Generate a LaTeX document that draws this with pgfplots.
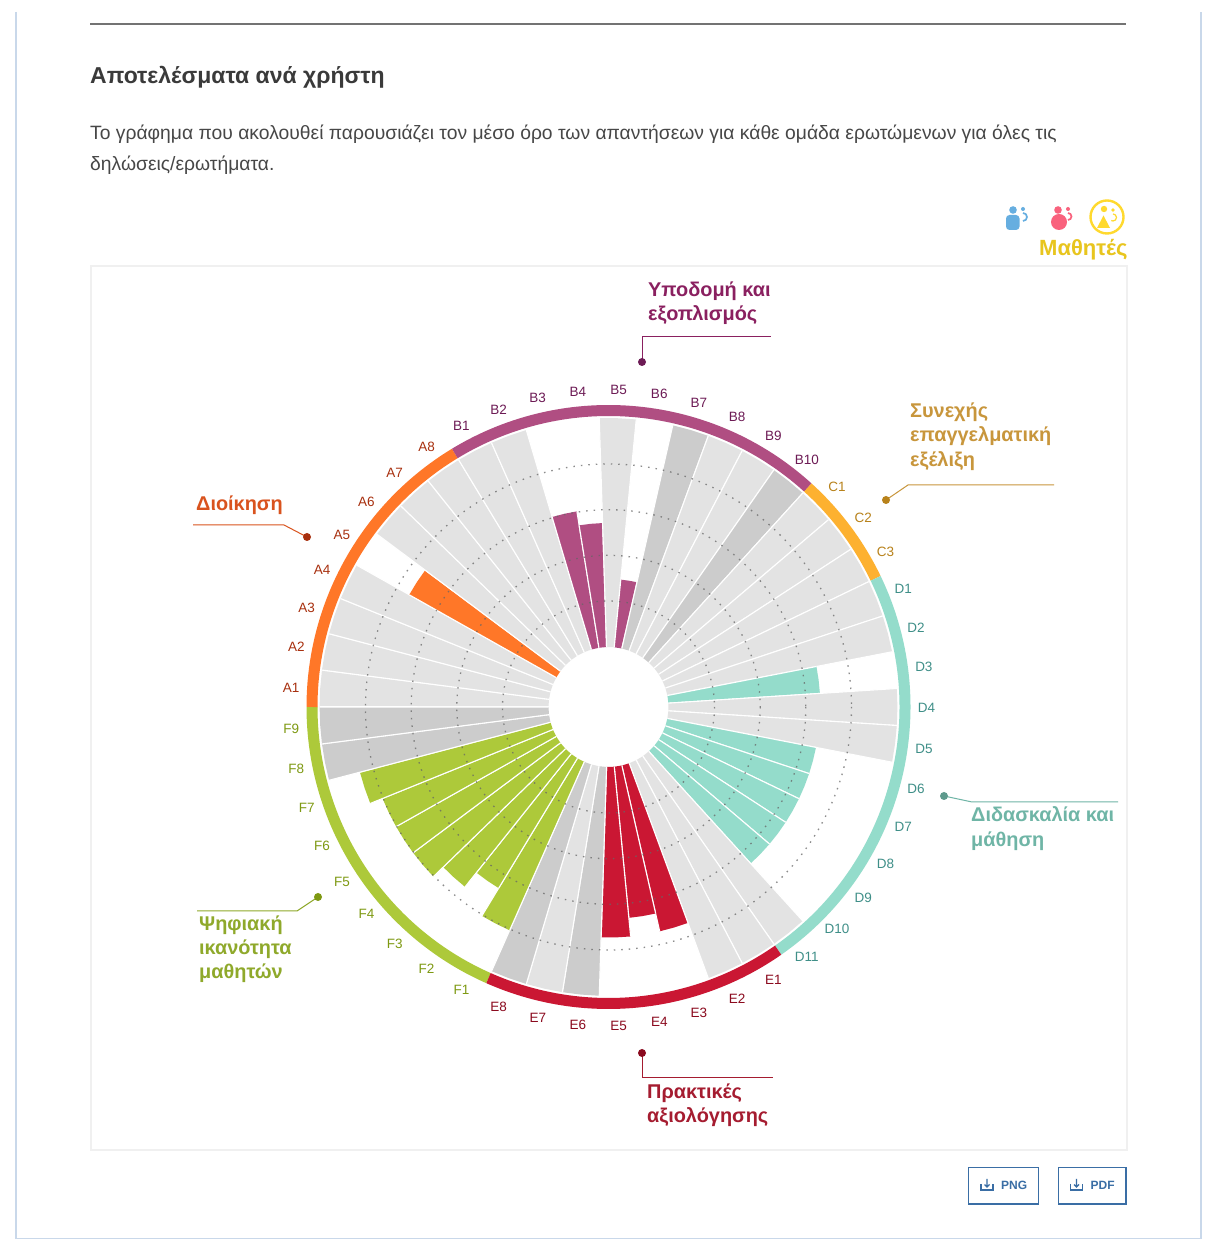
\documentclass[border=0pt]{standalone}
\usepackage{fontspec}
\setmainfont{Liberation Sans}
\usepackage{pgfplots}
\pgfplotsset{compat=1.18}
\definecolor{lgrey}{HTML}{E3E3E3}
\definecolor{dgrey}{HTML}{CCCCCC}
\definecolor{cA}{HTML}{FF7728}
\definecolor{cB}{HTML}{B04E82}
\definecolor{cC}{HTML}{FDB130}
\definecolor{cD}{HTML}{94DCCB}
\definecolor{cE}{HTML}{CA1733}
\definecolor{cF}{HTML}{ADC93A}
\definecolor{tA}{HTML}{A8300F}
\definecolor{tB}{HTML}{6D1B55}
\definecolor{tC}{HTML}{B8821B}
\definecolor{tD}{HTML}{3F8F88}
\definecolor{tE}{HTML}{8B0A1E}
\definecolor{tF}{HTML}{7E9912}
\definecolor{ink}{HTML}{3A3A3A}
\definecolor{btn}{HTML}{3A6EA5}
\definecolor{hA}{HTML}{D9531E}\definecolor{hB}{HTML}{8A2060}\definecolor{hC}{HTML}{C8963C}
\definecolor{hD}{HTML}{6FB5A6}\definecolor{hE}{HTML}{A51C30}\definecolor{hF}{HTML}{8FA92B}
\definecolor{iB}{HTML}{66AEE0}\definecolor{iP}{HTML}{F9627D}\definecolor{iY}{HTML}{FFD92E}
\definecolor{iT}{HTML}{E8C51E}
\definecolor{frameblue}{HTML}{C9D8EA}
% one bar: colour, position in the ring (0..48), value on the 0..5 scale
\newcommand\radbar[3]{%
 \addplot[fill=#1,draw=none,data cs=polar] coordinates {
 ({180-7.3469*#2},60) ({180-7.3469*#2},{60+45.6*#3}) ({180-7.3469*(#2+0.5)},{60+45.6*#3}) ({180-7.3469*(#2+1)},{60+45.6*#3}) ({180-7.3469*(#2+1)},60) ({180-7.3469*#2},60)};
 \addplot[draw=white,line width=1.1pt,data cs=polar] coordinates {
 ({180-7.3469*#2},{60+45.6*#3}) ({180-7.3469*#2},60)};
 \addplot[draw=white,line width=1.1pt,data cs=polar] coordinates {
 ({180-7.3469*(#2+1)},{60+45.6*#3}) ({180-7.3469*(#2+1)},60)};}
\newcommand\seg[3]{\draw[#1,line width=11pt] ({608.5+296.5*cos(180-7.3469*#2)},{707-296.5*sin(180-7.3469*#2)}) arc[start angle={180-7.3469*#2},end angle={180-7.3469*#3},x radius=296.5,y radius=-296.5];}
\newcommand\lbl[3]{\node[#1,font=\fontsize{13.5}{14}\selectfont] at ({608.5+318*cos(180-7.3469*(#2+0.5))},{708-318*sin(180-7.3469*(#2+0.5))}) {#3};}
\newcommand\head[2]{\node[anchor=base west,inner sep=0pt,font=\fontsize{19.9}{20}\bfseries\selectfont,#1] at #2;}
\begin{document}
\begin{tikzpicture}
\begin{axis}[x=1pt,y=1pt,scale only axis,hide axis,clip=false,
  xmin=-608.5,xmax=606.5,ymin=-533,ymax=707]
\begin{scope}[shift={(axis cs:-608.5,707)},x=1pt,y=-1pt]
 \fill[white] (0,0) rectangle (1215,1240);
 \draw[color=frameblue,line width=1.5pt] (16,12) -- (16,1238.5) -- (1201,1238.5) -- (1201,12);
 \draw[color=black!55,line width=2pt] (90,24.5) -- (1126,24.5);
 \draw[color=black!6,line width=1.3pt] (91,266) rectangle (1127,1150);
\end{scope}
% --- A
\radbar{lgrey}{0}{5.02}\radbar{lgrey}{1}{5.02}\radbar{lgrey}{2}{5.02}\radbar{lgrey}{3}{5.02}
\radbar{cA}{4}{3.70}
\radbar{lgrey}{5}{5.02}\radbar{lgrey}{6}{5.02}\radbar{lgrey}{7}{5.02}
% --- B
\radbar{lgrey}{8}{5.02}\radbar{lgrey}{9}{5.02}
\radbar{cB}{10}{3.03}\radbar{cB}{11}{2.72}
\radbar{lgrey}{12}{5.02}
\radbar{cB}{13}{1.49}
\radbar{dgrey}{14}{5.02}\radbar{lgrey}{15}{5.02}\radbar{lgrey}{16}{5.02}\radbar{dgrey}{17}{5.02}
% --- C
\radbar{lgrey}{18}{5.02}\radbar{lgrey}{19}{5.02}\radbar{lgrey}{20}{5.02}
% --- D
\radbar{lgrey}{21}{5.02}\radbar{lgrey}{22}{5.02}
\radbar{cD}{23}{3.33}
\radbar{lgrey}{24}{5.02}\radbar{lgrey}{25}{5.02}
\radbar{cD}{26}{3.32}\radbar{cD}{27}{3.32}\radbar{cD}{28}{3.32}\radbar{cD}{29}{3.32}\radbar{cD}{30}{3.32}
\radbar{lgrey}{31}{5.02}
% --- E
\radbar{lgrey}{32}{5.02}\radbar{lgrey}{33}{5.02}
\radbar{cE}{34}{3.73}\radbar{cE}{35}{3.33}\radbar{cE}{36}{3.74}
\radbar{dgrey}{37}{5.02}\radbar{lgrey}{38}{5.02}\radbar{dgrey}{39}{5.02}
% --- F
\radbar{cF}{40}{4.04}\radbar{cF}{41}{3.33}\radbar{cF}{42}{3.73}\radbar{cF}{43}{4.03}
\radbar{cF}{44}{4.03}\radbar{cF}{45}{4.03}\radbar{cF}{46}{4.32}
\radbar{dgrey}{47}{5.02}\radbar{dgrey}{48}{5.02}
\begin{scope}[shift={(axis cs:-608.5,707)},x=1pt,y=-1pt]
 % dotted level circles
 \draw[color=black!60,line width=1.3pt,dash pattern=on 1.5pt off 6pt,opacity=.75] (608.5,707) circle[radius=106];
 \draw[color=black!60,line width=1.3pt,dash pattern=on 1.5pt off 6pt,opacity=.75] (608.5,707) circle[radius=151.7];
 \draw[color=black!60,line width=1.3pt,dash pattern=on 1.5pt off 6pt,opacity=.75] (608.5,707) circle[radius=197.3];
 \draw[color=black!60,line width=1.3pt,dash pattern=on 1.5pt off 6pt,opacity=.75] (608.5,707) circle[radius=243];
 % rings
 \seg{cF}{40}{49}\seg{cA}{0}{8}\seg{cB}{8}{18}\seg{cC}{18}{21}\seg{cD}{21}{32}\seg{cE}{32}{40}
 % labels
 \lbl{tA}{0}{A1}\lbl{tA}{1}{A2}\lbl{tA}{2}{A3}\lbl{tA}{3}{A4}\lbl{tA}{4}{A5}\lbl{tA}{5}{A6}\lbl{tA}{6}{A7}\lbl{tA}{7}{A8}
 \lbl{tB}{8}{B1}\lbl{tB}{9}{B2}\lbl{tB}{10}{B3}\lbl{tB}{11}{B4}\lbl{tB}{12}{B5}\lbl{tB}{13}{B6}\lbl{tB}{14}{B7}\lbl{tB}{15}{B8}\lbl{tB}{16}{B9}\lbl{tB}{17}{B10}
 \lbl{tC}{18}{C1}\lbl{tC}{19}{C2}\lbl{tC}{20}{C3}
 \lbl{tD}{21}{D1}\lbl{tD}{22}{D2}\lbl{tD}{23}{D3}\lbl{tD}{24}{D4}\lbl{tD}{25}{D5}\lbl{tD}{26}{D6}\lbl{tD}{27}{D7}\lbl{tD}{28}{D8}\lbl{tD}{29}{D9}\lbl{tD}{30}{D10}\lbl{tD}{31}{D11}
 \lbl{tE}{32}{E1}\lbl{tE}{33}{E2}\lbl{tE}{34}{E3}\lbl{tE}{35}{E4}\lbl{tE}{36}{E5}\lbl{tE}{37}{E6}\lbl{tE}{38}{E7}\lbl{tE}{39}{E8}
 \lbl{tF}{40}{F1}\lbl{tF}{41}{F2}\lbl{tF}{42}{F3}\lbl{tF}{43}{F4}\lbl{tF}{44}{F5}\lbl{tF}{45}{F6}\lbl{tF}{46}{F7}\lbl{tF}{47}{F8}\lbl{tF}{48}{F9}
 % heading text
 \node[anchor=base west,inner sep=0pt,font=\fontsize{23}{24}\bfseries\selectfont,ink] at (90,84) {Αποτελέσματα ανά χρήστη};
 \node[anchor=base west,inner sep=0pt,font=\fontsize{19.3}{20}\selectfont,color=black!72] at (90,139.5) {Το γράφημα που ακολουθεί παρουσιάζει τον μέσο όρο των απαντήσεων για κάθε ομάδα ερωτώμενων για όλες τις};
 \node[anchor=base west,inner sep=0pt,font=\fontsize{19.3}{20}\selectfont,color=black!72] at (90,170.5) {δηλώσεις/ερωτήματα.};
 % group callouts
 \head{hA}{(196,511) {Διοίκηση}}
 \draw[hA,line width=1pt] (193,525) -- (284,525) -- (307,537); \fill[tA] (307,537) circle[radius=4];
 \head{hB}{(648,297) {Υποδομή και}}\head{hB}{(648,321) {εξοπλισμός}}
 \draw[hB,line width=1pt] (642,362) -- (642,337) -- (771,337); \fill[tB] (642,362) circle[radius=4];
 \head{hC}{(910,418) {Συνεχής}}\head{hC}{(910,442) {επαγγελματική}}\head{hC}{(910,467) {εξέλιξη}}
 \draw[hC,line width=1pt] (886,500) -- (908,485) -- (1054,485); \fill[tC] (886,500) circle[radius=4];
 \head{hD}{(971,822) {Διδασκαλία και}}\head{hD}{(971,847) {μάθηση}}
 \draw[hD,line width=1pt] (944,796) -- (972,802) -- (1118,802); \fill[hD!85!black] (944,796) circle[radius=4];
 \head{hF}{(199,931) {Ψηφιακή}}\head{hF}{(199,955) {ικανότητα}}\head{hF}{(199,979) {μαθητών}}
 \draw[hF,line width=1pt] (318,897) -- (297,911) -- (197,911); \fill[tF] (318,897) circle[radius=4];
 \head{hE}{(647,1099) {Πρακτικές}}\head{hE}{(647,1123) {αξιολόγησης}}
 \draw[hE,line width=1pt] (642,1053) -- (642,1078) -- (773,1078); \fill[tE] (642,1053) circle[radius=4];
 % icons
 \fill[iB] (1013,210) circle[radius=3.8];
 \fill[iB,rounded corners=3.5pt] (1006,215) rectangle (1019.5,230);
 \fill[iB] (1023,209) circle[radius=2];
 \draw[iB,line width=1.7pt] (1023,213) arc[start angle=90,end angle=-90,x radius=4,y radius=-4];
 \fill[iP] (1058,210) circle[radius=3.8];
 \fill[iP] (1059,222) circle[radius=8];
 \fill[iP] (1068,209) circle[radius=2];
 \draw[iP,line width=1.7pt] (1068,213) arc[start angle=90,end angle=-90,x radius=3.5,y radius=-3.5];
 \draw[iY,line width=2.4pt] (1107,217) circle[radius=16.5];
 \fill[iY] (1104,209) circle[radius=3.2];
 \fill[iY] (1097,228) -- (1110,228) -- (1103.5,215.5) -- cycle;
 \fill[iY] (1113,210) circle[radius=1.8];
 \draw[iY,line width=1.2pt] (1113,214) arc[start angle=90,end angle=-120,x radius=3.5,y radius=-3.5];
 \node[anchor=base west,inner sep=0pt,font=\fontsize{22}{23}\bfseries\selectfont,iT] at (1039,256) {Μαθητές};
 % export buttons
 \draw[btn,line width=1.5pt] (968.5,1167.5) rectangle (1038.5,1204);
 \draw[btn,line width=1.5pt] (1058.5,1167.5) rectangle (1126,1204);
 \node[anchor=base west,inner sep=0pt,font=\fontsize{12}{12}\bfseries\selectfont,btn] at (1001,1189.5) {PNG};
 \node[anchor=base west,inner sep=0pt,font=\fontsize{12}{12}\bfseries\selectfont,btn] at (1090.5,1189.5) {PDF};
 \draw[btn,line width=1.2pt] (981,1184) -- (981,1190) -- (993,1190) -- (993,1184);
 \draw[btn,line width=1.2pt] (987,1179) -- (987,1187) (984.5,1184.5) -- (987,1187) -- (989.5,1184.5);
 \draw[btn,line width=1.2pt] (1070.5,1184) -- (1070.5,1190) -- (1082.5,1190) -- (1082.5,1184);
 \draw[btn,line width=1.2pt] (1076.5,1179) -- (1076.5,1187) (1074,1184.5) -- (1076.5,1187) -- (1079,1184.5);
\end{scope}
\end{axis}
\end{tikzpicture}
\end{document}
